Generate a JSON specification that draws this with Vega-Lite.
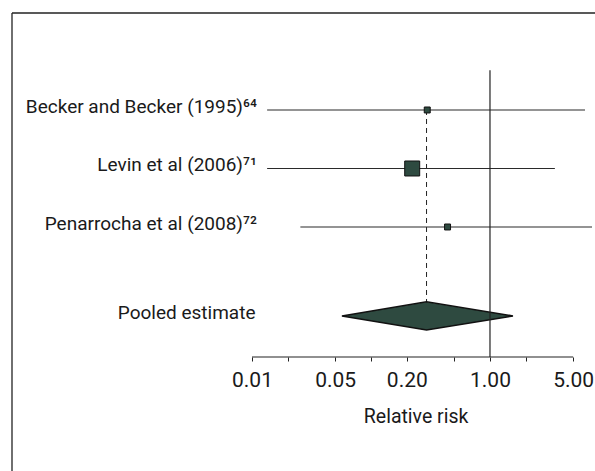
{
  "$schema": "https://vega.github.io/schema/vega-lite/v6.json",
  "width": 583,
  "height": 458,
  "padding": {"left": 12, "top": 13, "right": 0, "bottom": 0},
  "autosize": {"type": "none"},
  "background": "white",
  "config": {"view": {"stroke": null}, "font": "Roboto"},
  "data": {"values": [{}]},
  "datasets": {
    "studies": [
      {"label": "Becker and Becker (1995)\u2076\u2074", "row": 1, "rr": 0.297, "lo": 0.0134, "hi": 6.29, "weight": 12},
      {"label": "Levin et al (2006)\u2077\u00b9", "row": 2, "rr": 0.222, "lo": 0.0134, "hi": 3.51, "weight": 76},
      {"label": "Penarrocha et al (2008)\u2077\u00b2", "row": 3, "rr": 0.44, "lo": 0.0255, "hi": 7.2, "weight": 12}
    ],
    "pooled": [
      {"label": "Pooled estimate", "row": 4.52, "rr": 0.293, "lo": 0.057, "hi": 1.56}
    ],
    "diamond": [
      {"x": 0.057, "yTop": 4.52, "yBot": 4.52},
      {"x": 0.293, "yTop": 4.28, "yBot": 4.76},
      {"x": 1.56, "yTop": 4.52, "yBot": 4.52}
    ]
  },
  "layer": [
    {
      "mark": {"type": "rule", "color": "#222", "strokeWidth": 1.3},
      "encoding": {
        "x": {
          "datum": 0.0000962, "type": "quantitative",
          "scale": {"type": "log", "domain": [0.0000962, 7.63], "nice": false},
          "axis": {
            "values": [0.01, 0.02, 0.05, 0.1, 0.2, 0.5, 1, 2, 5],
            "format": ".2f",
            "labelExpr": "(datum.value == 0.01 || datum.value == 0.05 || datum.value == 0.2 || datum.value == 1 || datum.value == 5) ? datum.label : ''",
            "domain": false, "grid": false,
            "ticks": true, "tickSize": 4, "tickColor": "#222", "tickWidth": 1,
            "labelFontSize": 21, "labelColor": "#1a1a1a", "labelPadding": 25,
            "labelBaseline": "alphabetic", "labelOverlap": false, "labelFlush": false, "labelBound": false,
            "offset": -114,
            "title": "Relative risk", "titleFontSize": 19.5, "titleFontWeight": "normal", "titleColor": "#1a1a1a",
            "titleX": 403.6, "titleY": 65, "titleBaseline": "alphabetic", "titleAlign": "center"
          }
        },
        "y": {
          "datum": -0.658, "type": "quantitative",
          "scale": {"domain": [-0.658, 7.171], "reverse": true, "nice": false, "zero": false},
          "axis": null
        },
        "y2": {"datum": 7.171}
      }
    },
    {
      "mark": {"type": "rule", "color": "#222", "strokeWidth": 1.3},
      "encoding": {
        "x": {"datum": 0.0000962, "type": "quantitative"},
        "x2": {"datum": 7.63},
        "y": {"datum": -0.658, "type": "quantitative"}
      }
    },
    {
      "mark": {"type": "rule", "color": "#222", "strokeWidth": 1.2},
      "encoding": {
        "x": {"datum": 0.01, "type": "quantitative"},
        "x2": {"datum": 5},
        "y": {"datum": 5.222, "type": "quantitative"}
      }
    },
    {
      "data": {"name": "pooled"},
      "mark": {"type": "rule", "color": "#222", "strokeWidth": 1, "strokeDash": [5, 4]},
      "encoding": {
        "x": {"field": "rr", "type": "quantitative"},
        "y": {"datum": 1, "type": "quantitative"},
        "y2": {"datum": 4.28}
      }
    },
    {
      "data": {"name": "studies"},
      "mark": {"type": "rule", "color": "#2a2a2a", "strokeWidth": 1.2},
      "encoding": {
        "x": {"field": "lo", "type": "quantitative"},
        "x2": {"field": "hi"},
        "y": {"field": "row", "type": "quantitative"}
      }
    },
    {
      "data": {"name": "studies"},
      "mark": {"type": "point", "shape": "square", "filled": true, "fill": "#2e4a40", "stroke": "#111", "strokeWidth": 1, "opacity": 1},
      "encoding": {
        "x": {"field": "rr", "type": "quantitative"},
        "y": {"field": "row", "type": "quantitative"},
        "size": {"field": "weight", "type": "quantitative", "scale": {"domain": [0, 100], "range": [0, 296]}, "legend": null}
      }
    },
    {
      "data": {"name": "diamond"},
      "mark": {"type": "area", "fill": "#2e4a40", "stroke": "#111", "strokeWidth": 1.5, "orient": "vertical"},
      "encoding": {
        "x": {"field": "x", "type": "quantitative"},
        "y": {"field": "yTop", "type": "quantitative"},
        "y2": {"field": "yBot"}
      }
    },
    {
      "mark": {"type": "rule", "color": "#222", "strokeWidth": 1.2},
      "encoding": {
        "x": {"datum": 1, "type": "quantitative"},
        "y": {"datum": 0.32, "type": "quantitative"},
        "y2": {"datum": 5.222}
      }
    },
    {
      "data": {"name": "studies"},
      "mark": {"type": "text", "align": "right", "baseline": "alphabetic", "dy": 3, "fontSize": 19, "color": "#1a1a1a"},
      "encoding": {
        "x": {"datum": 0.011, "type": "quantitative"},
        "y": {"field": "row", "type": "quantitative"},
        "text": {"field": "label"}
      }
    },
    {
      "data": {"name": "pooled"},
      "mark": {"type": "text", "align": "right", "baseline": "alphabetic", "dy": 3, "fontSize": 19, "color": "#1a1a1a"},
      "encoding": {
        "x": {"datum": 0.0107, "type": "quantitative"},
        "y": {"field": "row", "type": "quantitative"},
        "text": {"field": "label"}
      }
    }
  ]
}
